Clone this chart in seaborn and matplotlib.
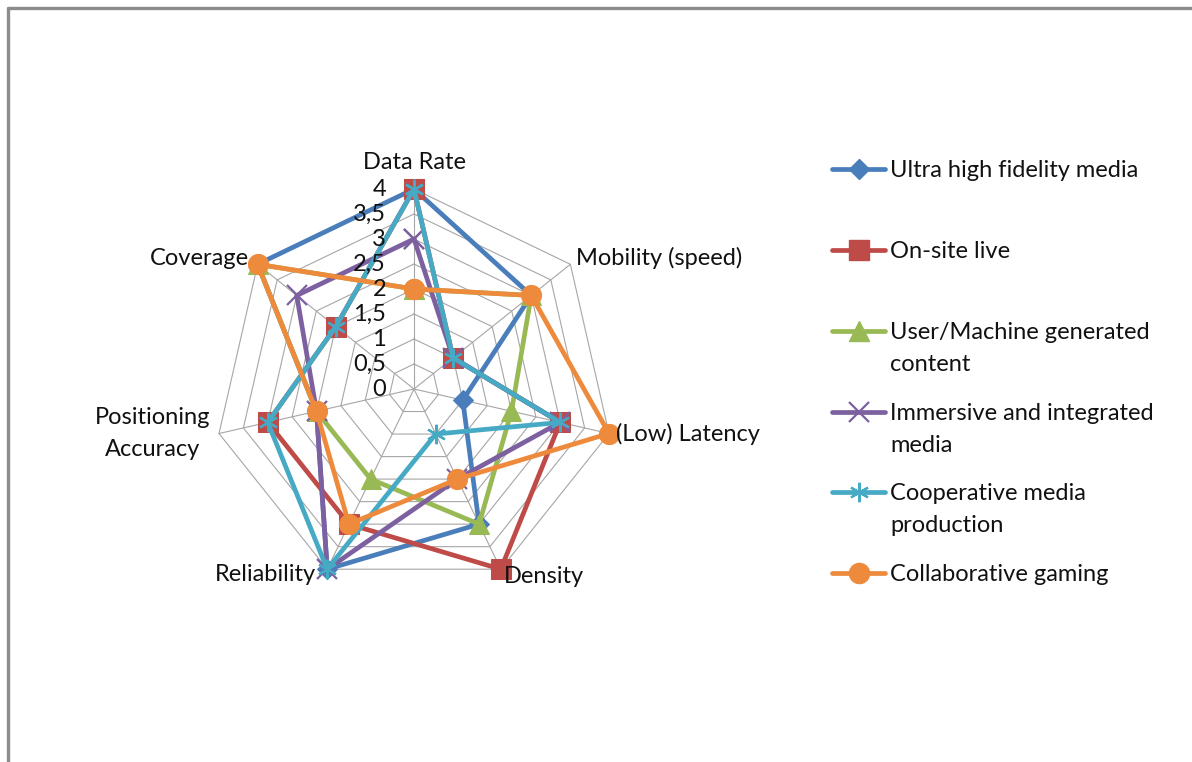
import numpy as np
import pandas as pd
import matplotlib
matplotlib.use("Agg")
import matplotlib.pyplot as plt
import matplotlib.transforms as mtransforms
from matplotlib.lines import Line2D
import seaborn as sns

# ---- data -------------------------------------------------------------
categories = ["Data Rate", "Mobility (speed)", "(Low) Latency", "Density",
              "Reliability", "Positioning\nAccuracy", "Coverage"]

series_names = ["Ultra high fidelity media", "On-site live",
                "User/Machine generated content",
                "Immersive and integrated media",
                "Cooperative media production", "Collaborative gaming"]

ultra_hifi = [4, 3, 1, 3, 4, 2, 4]
onsite_live = [4, 1, 3, 4, 3, 3, 2]
user_machine = [2, 3, 2, 3, 2, 2, 4]
immersive = [3, 1, 3, 2, 4, 2, 3]
cooperative = [4, 1, 3, 1, 4, 3, 2]
gaming = [2, 3, 4, 2, 3, 2, 4]

tick_values = [0, 0.5, 1, 1.5, 2, 2.5, 3, 3.5, 4]
tick_labels = ["0", "0,5", "1", "1,5", "2", "2,5", "3", "3,5", "4"]

legend_lines = [["Ultra high fidelity media"], ["On-site live"],
                ["User/Machine generated", "content"],
                ["Immersive and integrated", "media"],
                ["Cooperative media", "production"],
                ["Collaborative gaming"]]

# ---- style ------------------------------------------------------------
sns.set_style("white")
plt.rcParams["font.family"] = ["Lato", "DejaVu Sans"]
FS = 17
LW = 3.4

colors = ["#4A7EBB", "#BE4B48", "#98B954", "#7D60A0", "#46AAC5", "#EE8A3C"]
marker_style = [
    dict(marker="D", markersize=10),
    dict(marker="s", markersize=14),
    dict(marker="^", markersize=14),
    dict(marker="x", markersize=14, markeredgewidth=1.6),
    dict(marker=(6, 2, 0), markersize=14, markeredgewidth=1.6),
    dict(marker="o", markersize=14.5),
]

W, H = 1192, 762
fig = plt.figure(figsize=(W / 100, H / 100), dpi=100)


def fpos(x, y):
    return x / W, 1 - y / H


# chart frame (top and left edges)
fig.add_artist(Line2D([8 / W, 8 / W], [0, 1 - 8 / H], color="#8C8C8C", lw=2.4,
                      transform=fig.transFigure))
fig.add_artist(Line2D([8 / W, 1], [1 - 8 / H, 1 - 8 / H], color="#8C8C8C", lw=2.4,
                      transform=fig.transFigure))

cx, cy, R = 414, 389, 200
ax = fig.add_axes([(cx - R) / W, (H - cy - R) / H, 2 * R / W, 2 * R / H],
                  projection="polar")
ax.set_theta_offset(np.pi / 2)
ax.set_theta_direction(-1)
ax.set_ylim(0, 4)
ax.grid(False)
ax.spines["polar"].set_visible(False)
ax.patch.set_alpha(0)

n = len(categories)
angles = np.arange(n) * 2 * np.pi / n
closed = np.append(angles, angles[0] + 2 * np.pi)

# heptagonal grid rings and spokes
for lvl in tick_values[1:]:
    ax.plot(closed, [lvl] * (n + 1), color="#A6A6A6", lw=0.8, zorder=1,
            clip_on=False)
for a in angles:
    ax.plot([a, a], [0, 4], color="#A6A6A6", lw=0.8, zorder=1, clip_on=False)

# series
all_values = [ultra_hifi, onsite_live, user_machine, immersive, cooperative, gaming]
for i, (name, vals) in enumerate(zip(series_names, all_values)):
    df = pd.DataFrame({"theta": closed, "value": list(vals) + [vals[0]]})
    ms = marker_style[i]
    sns.lineplot(data=df, x="theta", y="value", sort=False, estimator=None,
                 ax=ax, color=colors[i], lw=LW, zorder=3 + i, clip_on=False,
                 markerfacecolor=colors[i], markeredgecolor=colors[i], **ms)
ax.set_xlabel("")
ax.set_ylabel("")
ax.set_xticks([])
ax.set_yticks([])
ax.set_ylim(0, 4)

# radial value labels along the first spoke
off = mtransforms.offset_copy(ax.transData, fig=fig, x=-28, y=0, units="dots")
for v, lab in zip(tick_values, tick_labels):
    ax.text(0, v, lab, transform=off, ha="right", va="center", fontsize=FS,
            color="#111111", zorder=20)

# category labels
cat_pos = [
    (414, 169, "center"),
    (576, 265, "left"),
    (616, 441, "left"),
    (504, 583, "left"),
    (316, 581, "right"),
    (153, 424, "center"),
    (249, 265, "right"),
]
for (x, y, ha), lab in zip(cat_pos, categories):
    parts = lab.split("\n")
    for k, p in enumerate(parts):
        fig.text(*fpos(x, y + 32 * k), p, ha=ha, va="baseline", fontsize=FS,
                 color="#111111")

# legend
handle_y = [169, 250, 331, 412, 492, 573]
for i, lines in enumerate(legend_lines):
    y = handle_y[i]
    fig.add_artist(Line2D([832 / W, 885 / W], [1 - y / H] * 2,
                          transform=fig.transFigure, color=colors[i], lw=LW))
    ms = dict(marker_style[i])
    fig.add_artist(Line2D([858.5 / W], [1 - y / H], transform=fig.transFigure,
                          color=colors[i], linestyle="none",
                          markerfacecolor=colors[i], markeredgecolor=colors[i],
                          **ms))
    for k, t in enumerate(lines):
        fig.text(*fpos(890, y + 8 + 32 * k), t, ha="left", va="baseline",
                 fontsize=FS, color="#111111")

fig.savefig("out.png", dpi=100, facecolor="white")
